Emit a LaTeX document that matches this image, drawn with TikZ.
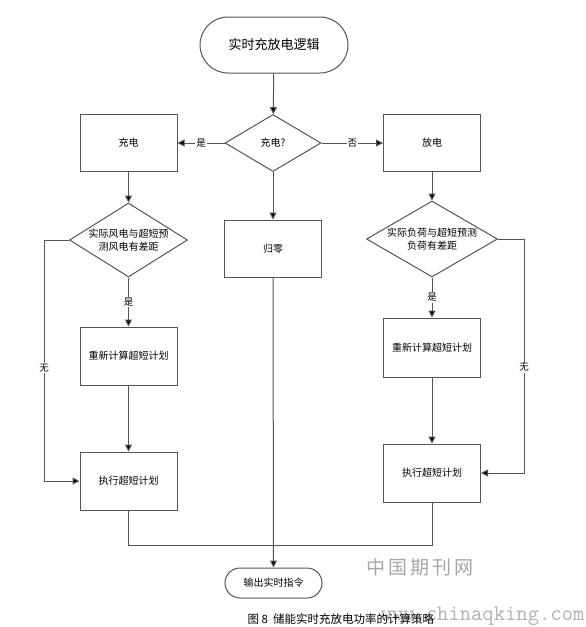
\documentclass[tikz,border=0pt]{standalone}
\usepackage{fontspec}
\setmainfont{Noto Sans CJK SC}
\usetikzlibrary{shapes.geometric,arrows.meta}
\definecolor{linec}{HTML}{555555}
\begin{document}
\begin{tikzpicture}[x=1pt,y=-1pt,
  every node/.style={font=\fontsize{10}{12}\selectfont},
  box/.style={draw=linec, line width=1pt, minimum width=97pt, minimum height=57pt, inner sep=0pt},
  term/.style={draw=linec, line width=1pt, rectangle, inner sep=0pt},
  dia/.style={draw=linec, line width=1pt, diamond, inner sep=0pt},
  dtext/.style={align=center, font=\fontsize{10}{13}\selectfont, inner sep=0pt},
  lbl/.style={fill=white, inner sep=1pt, font=\fontsize{9.5}{11}\selectfont},
  conn/.style={draw=linec, line width=1pt},
  arr/.style={conn, -{Triangle[length=7pt,width=7pt,fill=black]}}
]
\useasboundingbox[fill=white] (0,0) rectangle (586,627);

\node[term, minimum width=148pt, minimum height=56pt, rounded corners=28pt,
  font=\fontsize{13}{15}\selectfont] (start) at (274,45) {实时充放电逻辑};
\node[dia, minimum width=96pt, minimum height=57pt] (d0) at (273,143) {充电?};
\node[box] (charge) at (128.5,143) {充电};
\node[box] (dis) at (432,143) {放电};
\node[box] (zero) at (273,248.5) {归零};

\node[dia, minimum width=118pt, minimum height=74pt,
  label={[dtext]center:实际风电与超短预\\测风电有差距}] (dL) at (128.5,240) {};
\node[dia, minimum width=131pt, minimum height=76pt,
  label={[dtext]center:实际负荷与超短预测\\负荷有差距}] (dR) at (432,239) {};

\node[box, minimum height=58pt] (reL) at (128.5,356) {重新计算超短计划};
\node[box, minimum height=59pt] (reR) at (432,347.5) {重新计算超短计划};
\node[box, minimum height=58pt] (exL) at (128.5,481) {执行超短计划};
\node[box, minimum height=58pt] (exR) at (432,473) {执行超短计划};

\node[term, minimum width=97pt, minimum height=30pt, rounded corners=15pt] (out) at (273.5,583) {输出实时指令};

\coordinate (jn) at (273,545);
\coordinate (lL) at (44,240);
\coordinate (lR) at (524,239);

\draw[arr] (start) -- (d0);
\draw[arr] (d0.west) -- node[lbl]{是} (charge.east);
\draw[arr] (d0.east) -- node[lbl]{否} (dis.west);
\draw[arr] (d0.south) -- (zero.north);
\draw[arr] (charge.south) -- (dL.north);
\draw[arr] (dis.south) -- (dR.north);
\draw[arr] (dL.south) -- node[lbl, pos=0.5]{是} (reL.north);
\draw[arr] (dR.south) -- node[lbl, pos=0.5]{是} (reR.north);
\draw[arr] (reL.south) -- (exL.north);
\draw[arr] (reR.south) -- (exR.north);
\draw[arr] (dL.west) -- (lL) -- node[lbl, pos=0.53]{无} (lL |- exL.west) -- (exL.west);
\draw[arr] (dR.east) -- (lR) -- node[lbl, pos=0.55]{无} (lR |- exR.east) -- (exR.east);
\draw[conn] (exL.south) -- (exL.south |- jn) -- (jn);
\draw[conn] (exR.south) -- (exR.south |- jn) -- (jn);
\draw[arr] (zero.south) -- (out.north);

\node[text=black!35, font=\fontsize{19}{22}\selectfont] (wm1) at (420,567) {中\,国\,期\,刊\,网};
\node[text=black!30, font=\ttfamily\fontsize{22}{24}\selectfont, anchor=east] (wm2) at (588,616) {www.chinaqking.com};
\node[font=\fontsize{11.5}{13}\selectfont, anchor=west] (cap) at (244,619) {图 8\ \ 储能实时充放电功率的计算策略};
\end{tikzpicture}
\end{document}
